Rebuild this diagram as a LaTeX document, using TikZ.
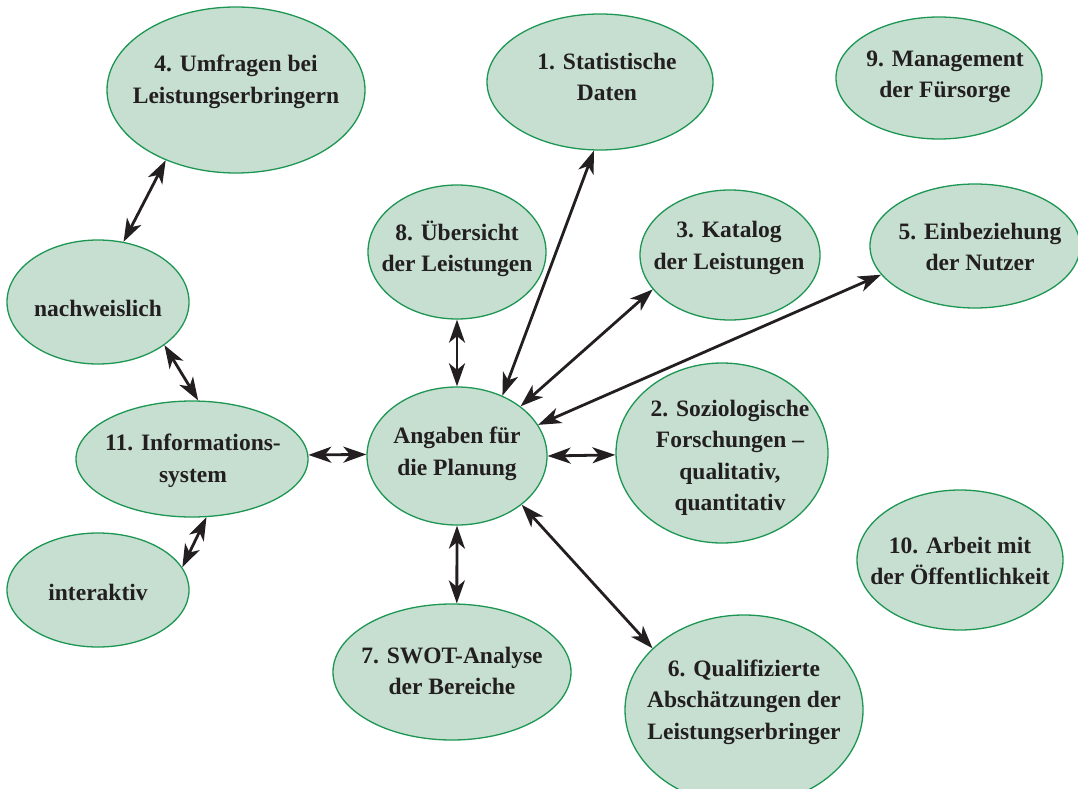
\documentclass[tikz,border=0pt]{standalone}
\usepackage{fontspec}
\setmainfont{Liberation Serif}
\usetikzlibrary{shapes.geometric,arrows.meta}

\definecolor{bubblefill}{RGB}{198,223,208}
\definecolor{bubbleedge}{RGB}{28,150,82}
\definecolor{ink}{RGB}{35,31,32}

\begin{document}
\begin{tikzpicture}[x=1pt,y=-1pt,
  bubble/.style={ellipse, draw=bubbleedge, fill=bubblefill, line width=1.3pt, inner sep=0pt},
  txt/.style={align=center, text=ink, font=\bfseries\fontsize{23.5}{31.5}\selectfont, inner sep=0pt},
  conn/.style={draw=ink, line width=2.8pt,
    {Stealth[length=23pt,width=16pt,inset=6.5pt]}-{Stealth[length=23pt,width=16pt,inset=6.5pt]}}
]
\useasboundingbox (0,0) rectangle (1078,789);

% bubbles
\node[bubble, minimum width=258pt, minimum height=166pt] (n4) at (236,90) {};
\node[txt] at (236,82) {4. Umfragen bei\\Leistungserbringern};

\node[bubble, minimum width=226pt, minimum height=136pt] (n1) at (600,82) {};
\node[txt] at (607,77) {1. Statistische\\Daten};

\node[bubble, minimum width=206pt, minimum height=122pt] (n9) at (939,78) {};
\node[txt] at (945,77) {9. Management\\der Fürsorge};

\node[bubble, minimum width=178pt, minimum height=134pt] (n8) at (457,252) {};
\node[txt] at (457,249) {8. Übersicht\\der Leistungen};

\node[bubble, minimum width=180pt, minimum height=130pt] (n3) at (730,255) {};
\node[txt] at (729,248) {3. Katalog\\der Leistungen};

\node[bubble, minimum width=210pt, minimum height=124pt] (n5) at (975,246) {};
\node[txt] at (980,247) {5. Einbeziehung\\der Nutzer};

\node[bubble, minimum width=182pt, minimum height=124pt] (nach) at (98,302) {};
\node[txt] at (98,308) {nachweislich};

\node[bubble, minimum width=232pt, minimum height=116pt] (info) at (192,459) {};
\node[txt] at (193,461) {11. Informations-\\system};

\node[bubble, minimum width=182pt, minimum height=114pt] (inter) at (98,590) {};
\node[txt] at (98,592) {interaktiv};

\node[bubble, minimum width=180pt, minimum height=138pt] (ang) at (457,456) {};
\node[txt] at (457,454) {Angaben für\\die Planung};

\node[bubble, minimum width=212pt, minimum height=180pt] (n2) at (722,453) {};
\node[txt] at (730,458) {2. Soziologische\\Forschungen –\\qualitativ,\\quantitativ};

\node[bubble, minimum width=206pt, minimum height=140pt] (n10) at (960,560) {};
\node[txt] at (960,561) {10. Arbeit mit\\der Öffentlichkeit};

\node[bubble, minimum width=238pt, minimum height=136pt] (n7) at (452,672) {};
\node[txt] at (452,671) {7. SWOT-Analyse\\der Bereiche};

\node[bubble, minimum width=238pt, minimum height=190pt] (n6) at (744,710) {};
\node[txt] at (744,702) {6. Qualifizierte\\Abschätzungen der\\Leistungserbringer};

% connectors
\draw[conn] (n4.225) -- (nach.67);
\draw[conn] (nach.327) -- (info.84);
\draw[conn] (info.2) -- (ang.179);
\draw[conn] (info.284) -- (inter.15);
\draw[conn] (n8.270) -- (ang.90);
\draw[conn] (n1.265) -- (ang.53);
\draw[conn] (n3.204) -- (ang.38);
\draw[conn] (n5.197) -- (ang.21);
\draw[conn] (ang.0) -- (n2.181);
\draw[conn] (ang.270) -- (n7.86);
\draw[conn] (ang.323) -- (n6.146);
\end{tikzpicture}
\end{document}
